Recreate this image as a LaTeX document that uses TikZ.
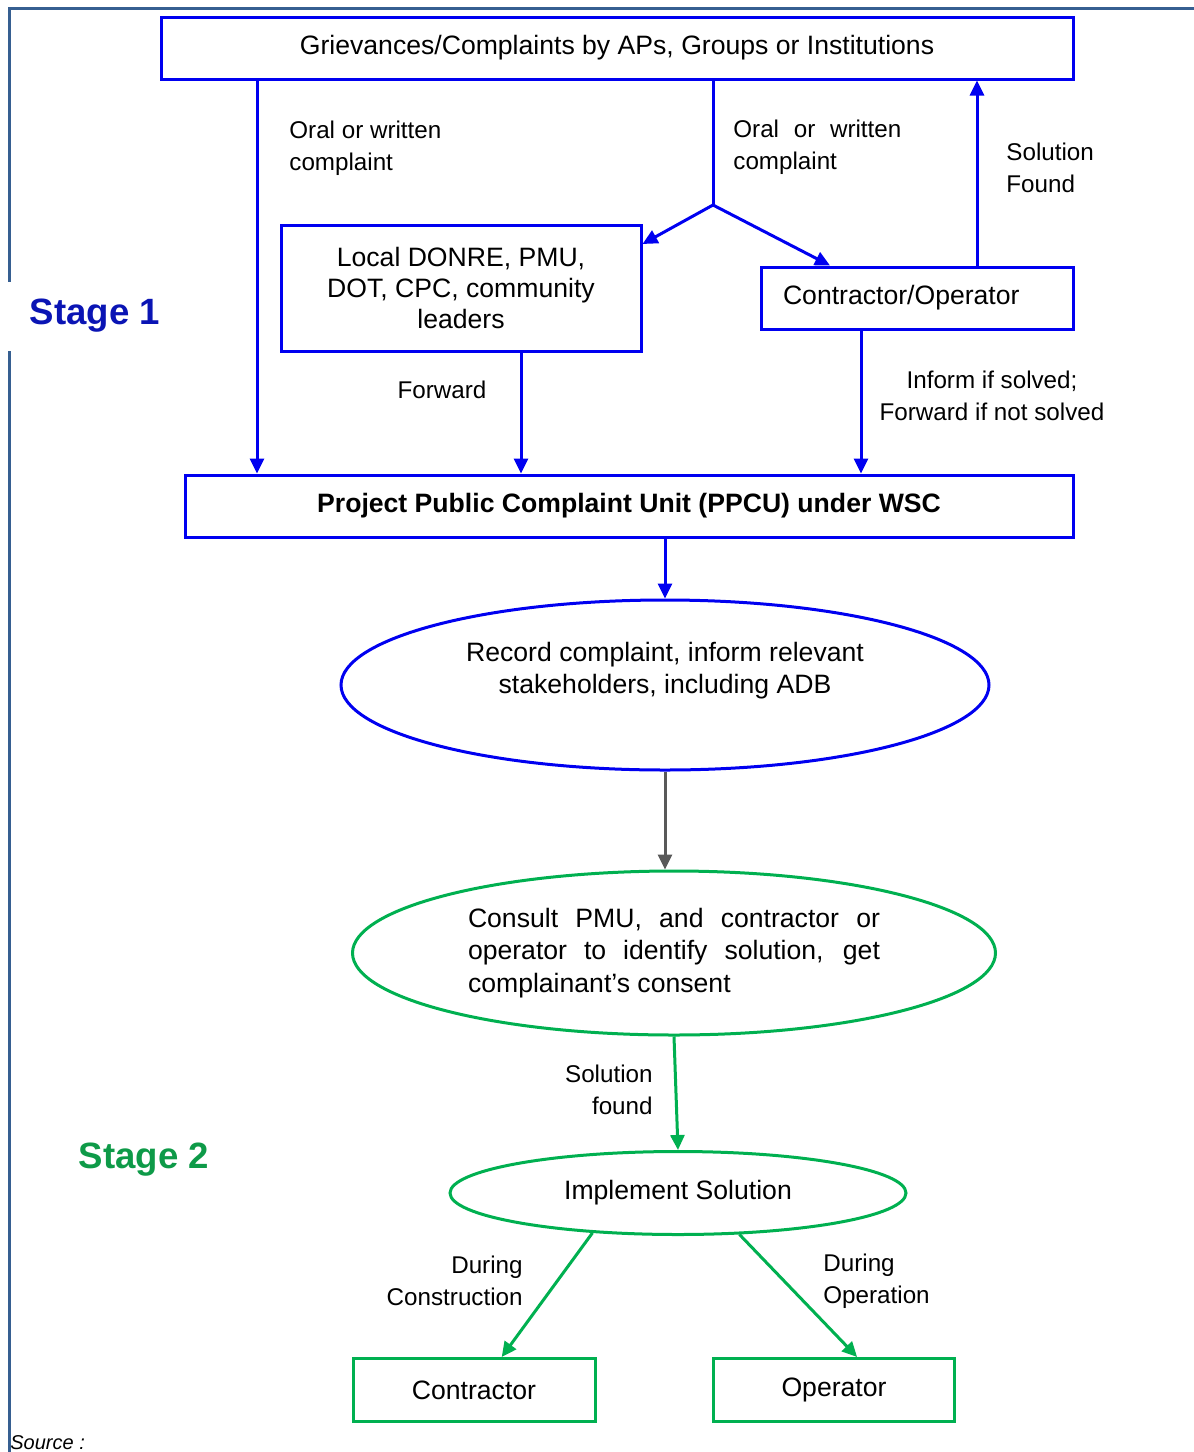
\documentclass[tikz,border=0pt]{standalone}
\usepackage{fontspec}
\setmainfont{Liberation Sans}
\usetikzlibrary{shapes.geometric,arrows.meta}
\definecolor{boxblue}{RGB}{0,0,240}
\definecolor{boxgreen}{RGB}{0,176,80}
\definecolor{stageblue}{RGB}{10,20,180}
\definecolor{stagegreen}{RGB}{14,154,72}
\definecolor{framecol}{RGB}{54,95,145}
\definecolor{arrgray}{RGB}{89,89,89}
\begin{document}
\begin{tikzpicture}[x=0.5pt,y=-0.5pt,
txt/.style={font=\fontsize{12.1}{16}\selectfont, inner sep=0pt},
btxt/.style={font=\fontsize{13.3}{16}\selectfont, inner sep=0pt},
bbox/.style={%
btxt, draw=boxblue, line width=1.5pt
},
gbox/.style={%
btxt, draw=boxgreen, line width=1.5pt
},
bell/.style={%
btxt, ellipse, draw=boxblue, line width=1.5pt
},
gell/.style={%
btxt, ellipse, draw=boxgreen, line width=1.5pt
},
arr/.style={line width=1.5pt, draw=boxblue, -{Triangle[length=7.5pt,width=7pt]}},
garr/.style={arr, draw=boxgreen},
stagelbl/.style={font=\fontsize{18.3}{22}\selectfont\bfseries}
]
\useasboundingbox (0,0) rectangle (1194,1452);
%% Frame
\draw[framecol, line width=1.5pt](9,1452)--(9,8)--(1194,8);
%% Stage 1
\node[bbox, minimum width=456pt, minimum height=31pt]at(617,48)(top){Grievances/Complaints by APs, Groups or Institutions};
\node[bbox, minimum width=180pt, minimum height=63pt, align=center, font=\fontsize{13.3}{15.5}\selectfont]at(461,288)(local){Local DONRE, PMU,\\DOT, CPC, community\\leaders};
\node[bbox, minimum height=31pt, text width=134pt, inner xsep=11pt, align=left]at(917,298)(contr){Contractor/Operator};
\node[bbox, minimum width=444pt, minimum height=31pt, font=\fontsize{13.3}{16}\selectfont\bfseries]at(629,506)(ppcu){Project Public Complaint Unit (PPCU) under WSC};
\node[stagelbl, text=stageblue, fill=white, inner xsep=18pt, minimum height=34.5pt]at(95,316)(s1){Stage 1};
%% complaint routes
\coordinate(lx)at(257,0);
\coordinate(split)at(713,205);
\coordinate(ly)at(0,244);
\coordinate(cx)at(830,0);
\coordinate(sx)at(977,0);
\coordinate(fx)at(521,0);
\coordinate(ix)at(861,0);
\draw[arr](top.south -| lx)--(ppcu.north -| lx);
\draw[line width=1.5pt, boxblue](top.south -| split)--(split);
\draw[arr](split)--(local.east |- ly);
\draw[arr](split)--(contr.north -| cx);
\draw[arr](contr.north -| sx)--(top.south -| sx);
\draw[arr](local.south -| fx)--(ppcu.north -| fx);
\draw[arr](contr.south -| ix)--(ppcu.north -| ix);
\node[txt, anchor=west, align=left]at(289,148)(oral1){Oral or written\\complaint};
\node[txt, anchor=west, align=left]at(733,147)(oral2){Oral\hspace{4pt} or\hspace{4pt} written\\complaint};
\node[txt, anchor=west, align=left]at(1006,168)(found1){Solution\\Found};
\node[txt]at(442,390)(fwd){Forward};
\node[txt, align=center]at(992,396)(inform){Inform if solved;\\Forward if not solved};
%% Recording
\node[bell, minimum width=324pt, minimum height=85pt]at(665,685)(rec){};
\node[btxt, align=center]at(665,671)(rectxt){Record complaint, inform relevant\\stakeholders, including ADB};
\draw[arr](ppcu.south -| rec)--(rec.north);
%% Stage 2
\node[gell, minimum width=321.5pt, minimum height=82pt, text width=206pt, align=justify, font=\fontsize{13.3}{16.25}\selectfont]at(674,953)(cons){Consult PMU, and contractor or\linebreak operator to identify solution, get\linebreak complainant’s consent};
\draw[arr, draw=arrgray](rec.south)--(rec.south |- cons.north);
\node[gell, minimum width=228pt, minimum height=41.5pt]at(678,1193)(impl){Implement Solution};
\draw[garr](cons.south)--(impl.north);
\node[txt, anchor=east, align=right]at(653,1090)(found2){Solution\\found};
\node[stagelbl, text=stagegreen]at(144,1160)(s2){Stage 2};
\node[gbox, minimum width=121pt, minimum height=31.5pt]at(474,1390)(ctr){Contractor};
\node[gbox, minimum width=120.5pt, minimum height=31.5pt]at(834,1390)(opr){Operator};
\draw[garr](impl.205)--(ctr.50);
\draw[garr](impl.326)--(opr.55);
\node[txt, anchor=east, align=right]at(523,1281)(dcon){During\\Construction};
\node[txt, anchor=west, align=left]at(823,1281)(dop){During\\Operation};
%% source
\node[txt, anchor=west, font=\fontsize{10}{12}\selectfont\itshape]at(10,1443)(src){Source :};
\end{tikzpicture}
\end{document}
